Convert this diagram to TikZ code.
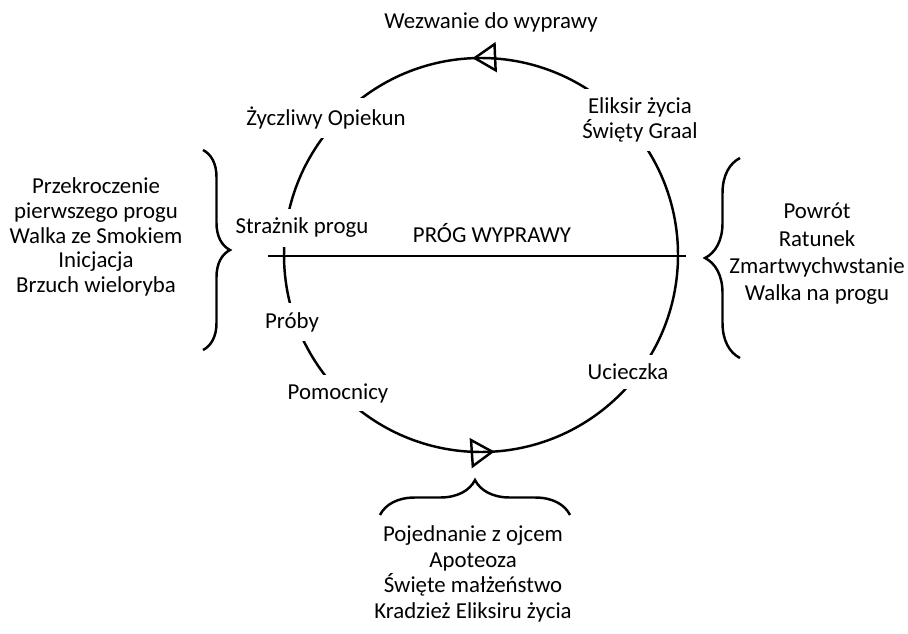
\documentclass[tikz,border=0pt]{standalone}
\usepackage{fontspec}
\setmainfont{Carlito}
\usetikzlibrary{arrows.meta,decorations.markings,decorations.pathreplacing}

\begin{document}
\begin{tikzpicture}[x=0.02cm,y=0.02cm]
\tikzset{
  stagelabel/.style={fill=white,inner xsep=3pt,inner ysep=5pt,align=center,font=\fontsize{13}{14.5}\selectfont},
  sidetext/.style={align=center,inner sep=0pt,font=\fontsize{13}{#1}\selectfont},
  cycleline/.style={draw=black,line width=1.4pt},
  bracket/.style={cycleline,decorate,decoration={brace,amplitude=#1}},
  cyclehead/.style={postaction={decorate},decoration={markings,
    mark=at position 0.257 with {\arrow{Triangle[open,length=0.48cm,width=0.6cm]}},
    mark=at position 0.761 with {\arrow{Triangle[open,length=0.48cm,width=0.6cm]}}}}
}
\useasboundingbox (0,0) rectangle (908,633);
\coordinate (n_centre) at (481,378);
\coordinate (n_thrL) at (268,377);
\coordinate (n_thrR) at (686,377);
\draw[cycleline,cyclehead] (n_centre) circle[radius=197];
\draw[cycleline] (n_thrL) -- (n_thrR);
\node[stagelabel] (n_call) at (491,611) {Wezwanie do wyprawy};
\node[stagelabel] (n_mentor) at (326,515) {Życzliwy Opiekun};
\node[stagelabel] (n_elixir) at (640,513) {Eliksir życia\\Święty Graal};
\node[stagelabel] (n_guard) at (302,405) {Strażnik progu};
\node[stagelabel,fill=none] (n_thr) at (492,400) {PRÓG WYPRAWY};
\node[stagelabel] (n_trials) at (292,311) {Próby};
\node[stagelabel] (n_helpers) at (338,240) {Pomocnicy};
\node[stagelabel] (n_flight) at (628,261) {Ucieczka};
% braces and the lists beside them
\coordinate (n_braceLt) at (203,483);
\coordinate (n_braceLb) at (203,283);
\coordinate (n_braceRb) at (740,275);
\coordinate (n_braceRt) at (740,475);
\coordinate (n_braceBl) at (380,118);
\coordinate (n_braceBr) at (570,118);
\draw[bracket=0.54cm] (n_braceLt) -- (n_braceLb);
\draw[bracket=0.7cm] (n_braceRb) -- (n_braceRt);
\draw[bracket=0.7cm] (n_braceBl) -- (n_braceBr);
\node[sidetext=14] (n_departure) at (96,396) {Przekroczenie\\pierwszego progu\\Walka ze Smokiem\\Inicjacja\\Brzuch wieloryba};
\node[sidetext=15.5] (n_return) at (817,379) {Powrót\\Ratunek\\Zmartwychwstanie\\Walka na progu};
\node[sidetext=14.5] (n_initiation) at (473,59) {Pojednanie z ojcem\\Apoteoza\\Święte małżeństwo\\Kradzież Eliksiru życia};
\end{tikzpicture}
\end{document}
